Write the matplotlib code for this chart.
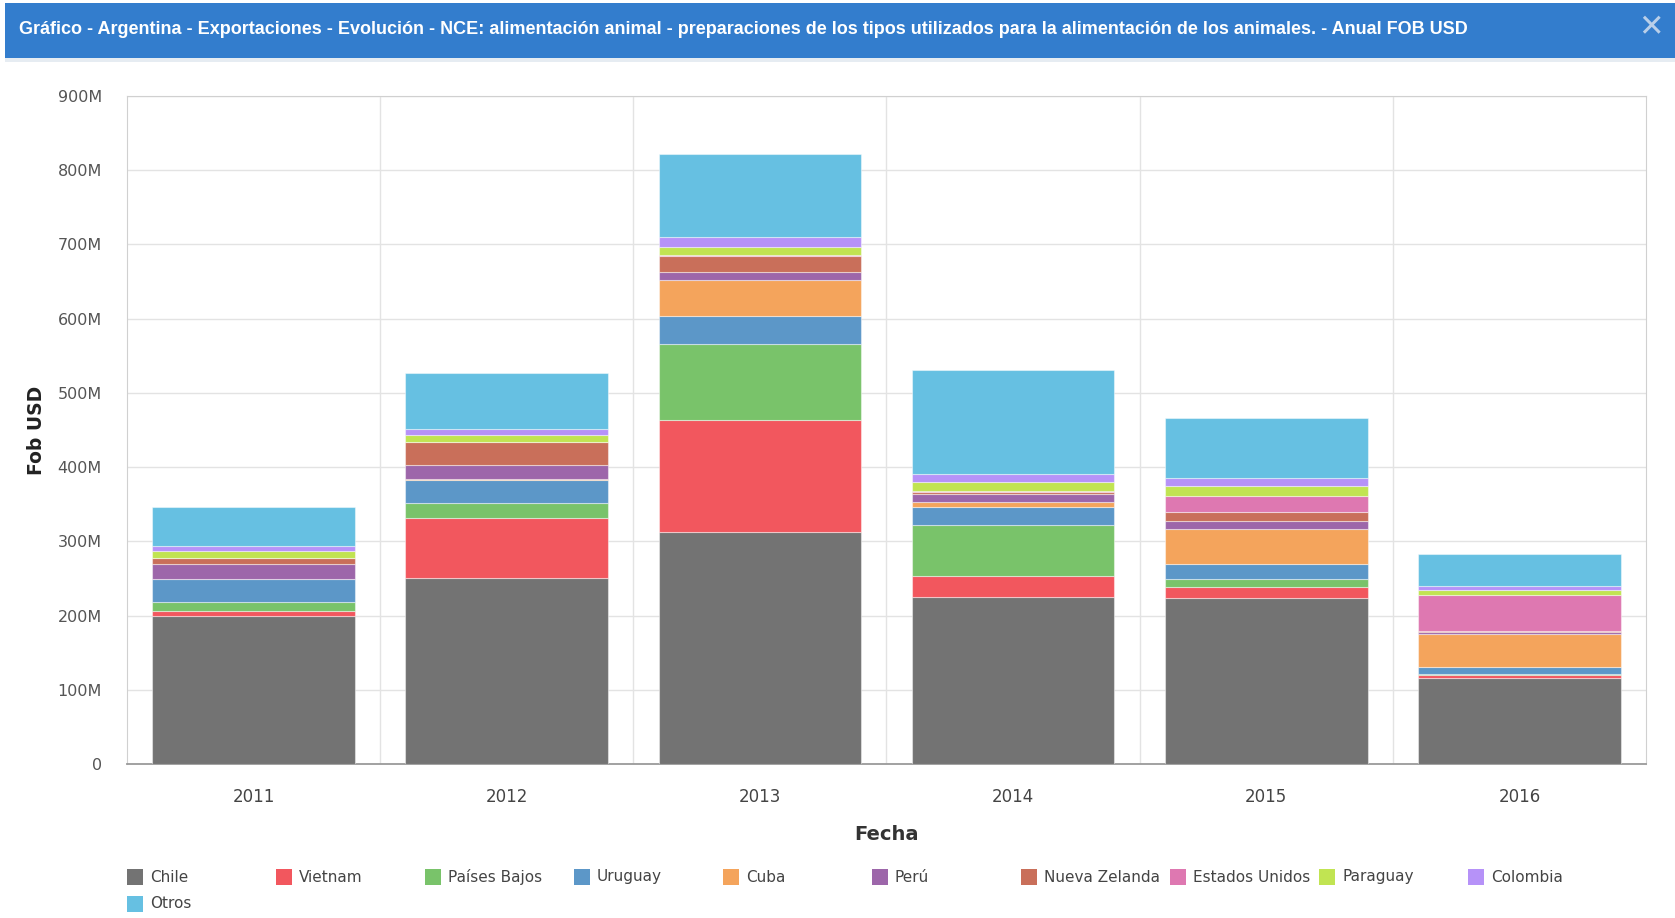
import matplotlib
matplotlib.use("Agg")
import matplotlib.pyplot as plt
from matplotlib.patches import Rectangle
import numpy as np

years = ["2011", "2012", "2013", "2014", "2015", "2016"]
series_names = ["Chile", "Vietnam", "Países Bajos", "Uruguay", "Cuba", "Perú",
                "Nueva Zelanda", "Estados Unidos", "Paraguay", "Colombia", "Otros"]
colors = ["#737373", "#f2575e", "#79c36a", "#5c97c8", "#f4a45c", "#9d66aa",
          "#c96f5a", "#de78b1", "#c1e452", "#b692f8", "#66c0e2"]

# values in millions USD
chile          = [200.0, 250.7, 313.0, 225.5, 223.7, 116.3]
vietnam        = [6.7, 80.8, 151.0, 27.5, 14.4, 4.0]
paises_bajos   = [11.3, 19.8, 102.4, 69.0, 11.2, 0.5]
uruguay        = [31.4, 31.9, 37.8, 24.3, 20.7, 9.4]
cuba           = [0.5, 0.5, 48.5, 6.3, 47.1, 45.0]
peru           = [19.0, 18.8, 10.8, 11.2, 10.4, 2.0]
nueva_zelanda  = [8.0, 31.5, 21.6, 2.0, 12.1, 1.5]
estados_unidos = [0.5, 0.5, 0.5, 1.6, 21.6, 49.5]
paraguay       = [10.0, 9.0, 10.3, 13.0, 13.0, 6.7]
colombia       = [6.0, 8.1, 14.4, 10.3, 11.2, 4.5]
otros          = [52.6, 75.0, 111.4, 140.6, 80.5, 44.0]

data = [chile, vietnam, paises_bajos, uruguay, cuba, peru,
        nueva_zelanda, estados_unidos, paraguay, colombia, otros]

title = ("Gráfico - Argentina - Exportaciones - Evolución - NCE: alimentación animal - "
         "preparaciones de los tipos utilizados para la alimentación de los animales. - Anual FOB USD")

W, H = 1675, 918
fig = plt.figure(figsize=(W / 100, H / 100), dpi=100)
fig.patch.set_facecolor("white")

# Title bar
fig.patches.append(Rectangle((5 / W, 1 - 58 / H), 1 - 5 / W, 55 / H,
                             transform=fig.transFigure, facecolor="#337dcd",
                             edgecolor="none", zorder=0))
fig.patches.append(Rectangle((5 / W, 1 - 62 / H), 1 - 5 / W, 4 / H,
                             transform=fig.transFigure, facecolor="#e6ecf2",
                             edgecolor="none", zorder=0))
t = fig.text(19 / W, 1 - 30 / H, title, color="white", fontsize=14,
             family="Liberation Sans", fontweight="bold", va="center", ha="left")
renderer = fig.canvas.get_renderer()
fs = 14.0
while t.get_window_extent(renderer).width > 1470 and fs > 8:
    fs -= 0.25
    t.set_fontsize(fs)
fig.text(1651 / W, 1 - 28 / H, "✕", color="#b9cfe9", fontsize=22, fontweight="bold",
         va="center", ha="center", family="DejaVu Sans")

ax = fig.add_axes([127 / W, 1 - 764 / H, (1646 - 127) / W, (764 - 96) / H])
x = np.arange(len(years))
bottom = np.zeros(len(years))
for name, vals, col in zip(series_names, data, colors):
    v = np.array(vals) * 1e6
    ax.bar(x, v, width=0.8, bottom=bottom, color=col, edgecolor=(1, 1, 1, 0.45),
           linewidth=0.8, zorder=3, label=name)
    bottom += v

ax.set_xlim(-0.5, len(years) - 0.5)
ax.set_ylim(0, 900e6)
yt = np.arange(0, 901e6, 100e6)
ax.set_yticks(yt)
ax.set_yticklabels(["0"] + [f"{int(v / 1e6)}M" for v in yt[1:]])
ax.set_xticks(x)
ax.set_xticklabels(years)
ax.set_xticks(np.arange(0.5, len(years) - 0.5, 1), minor=True)
ax.grid(axis="y", which="major", color="#e3e3e3", linewidth=1, zorder=0)
ax.grid(axis="x", which="minor", color="#e3e3e3", linewidth=1, zorder=0)
ax.tick_params(axis="both", which="both", length=0)
ax.tick_params(axis="y", labelsize=11.5, labelcolor="#555555", pad=18)
ax.tick_params(axis="x", labelsize=12, labelcolor="#444444", pad=17)
for s in ["top", "right", "left"]:
    ax.spines[s].set_color("#d0d0d0")
ax.spines["bottom"].set_color("#9a9a9a")
ax.spines["bottom"].set_linewidth(1.3)

fig.text(36 / W, 1 - 430 / H, "Fob USD", rotation=90, fontsize=13.5, fontweight="bold",
         color="#222222", va="center", ha="center")
fig.text(886 / W, 1 - 834 / H, "Fecha", fontsize=14, fontweight="bold",
         color="#333333", va="center", ha="center")

# Legend (manual, evenly spaced columns)
col_x0, col_dx = 127, 149
row_y = [877, 904]
for i, (name, col) in enumerate(zip(series_names, colors)):
    r, c = divmod(i, 10)
    lx = col_x0 + c * col_dx
    ly = row_y[r]
    fig.patches.append(Rectangle((lx / W, 1 - (ly + 8) / H), 16 / W, 16 / H,
                                 transform=fig.transFigure, facecolor=col,
                                 edgecolor="none"))
    fig.text((lx + 23) / W, 1 - ly / H, name, fontsize=11, color="#444444",
             va="center", ha="left")

fig.savefig("out.png", dpi=100, facecolor="white")
